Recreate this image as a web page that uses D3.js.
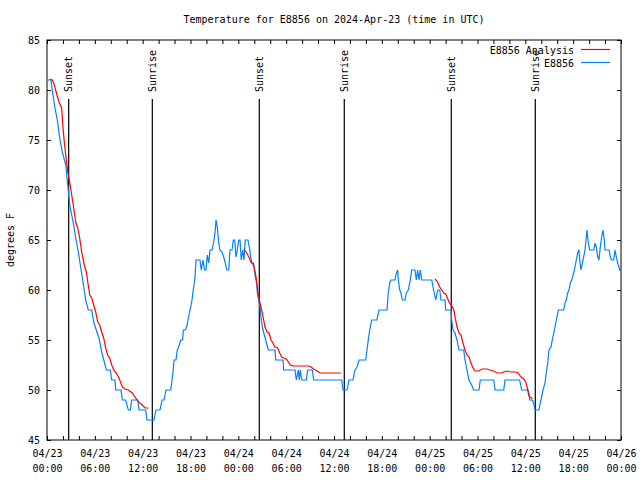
<!DOCTYPE html>
<html>
<head>
<meta charset="utf-8">
<script src="https://cdn.jsdelivr.net/npm/d3@7"></script>
<style>
  body { margin: 0; background: #fff; }
  svg { display: block; }
  text { font-family: "DejaVu Sans Mono", "Liberation Mono", monospace; font-size: 10px; fill: #000; }
</style>
</head>
<body>
<svg id="chart" width="640" height="480"></svg>
<script>
// ---------- data (hours since 2024-04-23 00:00 UTC) ----------
const titleText = "Temperature for E8856 on 2024-Apr-23 (time in UTC)";
const yLabel = "degrees F";
const seriesNames = ["E8856 Analysis", "E8856"];
const yTicks = [45, 50, 55, 60, 65, 70, 75, 80, 85];

const obsHours = [0.09,0.50,0.66,1.00,1.34,1.59,1.92,2.35,2.60,2.85,3.35,3.60,3.93,4.18,4.52,4.85,5.18,5.61,5.86,6.18,6.52,6.86,7.19,7.44,7.94,8.12,8.53,8.62,9.28,9.45,9.87,10.20,10.45,10.62,11.38,11.54,12.38,12.54,13.21,13.42,
13.67,14.17,14.43,14.68,14.93,15.52,15.68,15.84,15.93,16.18,16.34,16.52,16.77,17.02,17.10,17.35,17.52,17.69,17.85,18.03,18.19,18.35,18.53,18.60,18.69,19.19,19.35,19.57,19.76,19.94,20.11,20.28,20.45,20.70,20.95,21.11,21.20,21.36,21.54,21.70,21.95,22.20,22.37,22.54,22.79,22.95,23.21,23.37,23.54,23.71,23.87,24.05,24.21,24.37,24.55,24.71,24.87,25.21,25.38,25.55,25.71,25.97,26.13,26.30,26.38,26.55,26.72,26.88,27.09,27.43,27.76,28.60,28.69,29.60,29.69,31.11,31.27,31.52,31.65,31.77,31.95,32.53,32.70,33.28,33.45,36.97,37.13,37.63,37.88,38.38,38.63,38.89,39.14,39.98,40.14,40.30,40.48,40.73,41.39,41.64,42.65,42.81,42.99,43.15,43.65,43.82,43.99,44.07,44.24,44.40,44.57,44.91,45.07,45.32,45.57,45.75,46.16,46.32,46.50,46.66,46.83,47.00,48.26,48.42,48.58,48.76,49.01,49.26,49.42,49.92,50.01,50.68,50.76,50.93,51.18,51.43,51.68,52.27,52.43,52.68,52.93,53.27,53.52,54.19,54.35,56.03,56.20,57.29,57.45,59.29,59.54,60.37,60.55,60.87,61.05,61.21,61.71,61.88,62.05,62.22,62.47,62.63,62.81,62.97,63.22,63.38,63.56,63.72,63.89,64.14,64.81,64.98,65.14,65.31,65.48,65.64,65.82,66.07,66.23,66.39,66.57,66.73,66.82,66.98,67.15,67.32,67.48,67.57,67.74,67.90,68.08,68.58,68.74,68.90,69.08,69.24,69.40,69.58,69.74,69.91,69.99,70.50,70.66,70.83,71.08,71.25,71.41,71.59,71.84,72.00];
const obsTemps = [81,81,80,78.2,76.8,75.2,73.8,72.5,70.5,68.5,66.5,65.2,63.8,62.5,60.8,59,58,58,56.8,56,55.2,53.8,52.8,52,52,51,51,50,50,49,49,48,48,49,49,48,48,47,47,47,
48,48,49,49,50,50,51,52,53,53,54,54.3,55,55,56,56,56.3,57,57.7,58.3,59,60,61,61.7,63,63,62,63,62,62,63.5,62.7,64,64,65,66,67,66.3,64.7,64,63.8,63.2,62.7,62,62,64,64,65,65,63.3,64,65,65,63,64,63,65,65,64.3,63.3,62.7,62.3,61.3,60.7,59.7,59,58.3,57,56,55,54,54,53,53,52,52,51,52,51,52,51,51,52,52,51,51,50,50,51,51,52,52.3,53,53,54,55,56,57,57,58,58,59.7,60.7,61,61,61.7,62,61,60,59.7,59,59,59.7,60,61,62,62,61,62,61,62,61,61,60.3,59.7,59,60,60,59,59,58,58,57,56,55.7,55,54,54,53,52,51,50.5,50,50,51,51,50,50,51,51,50,50,49,49,48.7,48,48,48.7,49.3,50,50.7,51.7,52.7,54,54.3,55,55.7,56.3,57,58,58,58.7,59,59.7,60,60.7,61,61.7,62.3,63,63.7,64,63,62,62.7,63.3,64,64.7,66,64.7,64,64,64.7,64.3,63.3,63,64.3,65.3,66,65,64,64,63.3,63,63,64,63.3,62.7,62,62];

const anaHours1 = [0.34,0.66,0.92,1.25,1.51,1.84,2.01,2.17,2.35,2.60,2.85,3.10,3.35,3.60,3.85,4.10,4.35,4.68,4.93,5.11,5.36,5.61,5.86,6.11,6.36,6.61,6.86,7.11,7.36,7.61,7.86,8.12,8.37,8.69,9.03,9.45,9.78,10.20,10.70,11.04,11.29,11.63,11.95,12.29,12.73];
const anaTemps1 = [81.1,81,80.5,79.5,78.8,78.2,76.2,74.8,73.5,71.8,70.8,69.5,68.2,66.8,66.2,65.2,63.8,62.5,61.8,60.8,59.5,59.2,58.5,57.8,56.8,56.5,55.8,55.2,54.2,53.5,53.2,52.5,52,51.7,51.2,50.3,50.1,50,49.7,49.3,49,48.7,48.5,48.2,48.2];
const anaHours2 = [24.71,25.05,25.38,25.63,25.88,26.05,26.22,26.38,26.55,26.72,26.93,27.18,27.34,27.60,27.85,28.10,28.35,28.60,28.94,29.19,29.44,29.69,30.02,30.27,30.52,30.86,32.78,33.12,33.45,33.87,34.28,36.88];
const anaTemps2 = [64.1,63.7,63.2,62.7,62.7,62,61.3,60.3,59.3,58.7,58,57,56.3,55.8,55.7,55,54.7,54.3,54.2,53.7,53.3,53.2,53.1,52.8,52.5,52.4,52.4,52.3,52.1,51.9,51.7,51.7];
const anaHours3 = [48.67,49.01,49.26,49.51,49.76,50.01,50.17,50.43,50.68,50.93,51.09,51.18,51.43,51.68,51.93,52.18,52.43,52.68,52.93,53.18,53.44,53.69,54.10,54.60,55.19,55.53,56.03,56.45,56.95,57.29,57.70,58.20,58.70,59.12,59.46,59.80,60.05,60.21,60.37,60.55,60.80,60.87];
const anaTemps3 = [61.1,60.8,60.3,60,59.7,59.6,59.3,58.8,58.5,58.2,57.8,57.3,56.3,55.7,55.5,54.7,54,53.5,53.3,52.7,52.2,51.9,51.9,52.1,52.1,52,51.9,51.7,51.7,51.8,51.9,51.8,51.8,51.7,51.3,51.1,50.8,50.3,49.7,49.3,49.2,49.1];

const sunHours = [2.72, 13.21, 26.63, 37.29, 50.71, 61.25];
const sunLabels = ["Sunset", "Sunrise", "Sunset", "Sunrise", "Sunset", "Sunrise"];

// ---------- setup ----------
const colors = { analysis: "#ff0000", obs: "#0080ff" };
const t0 = Date.UTC(2024, 3, 23);
const toDate = h => new Date(t0 + h * 3600e3);
const start = new Date(t0), end = new Date(Date.UTC(2024, 3, 26));

const svg = d3.select("#chart");
const L = 47, R = 621, T = 40, B = 440;
const x = d3.scaleUtc().domain([start, end]).range([L, R]);
const y = d3.scaleLinear().domain([45, 85]).range([B, T]);

const fixFont = g => g.attr("font-family", null).attr("font-size", null);

// title and y label
svg.append("text").attr("x", (L + R) / 2).attr("y", 23).attr("text-anchor", "middle").text(titleText);
svg.append("text").attr("transform", "translate(14,240) rotate(-90)").attr("text-anchor", "middle").text(yLabel);

// axes
const ticks2h = d3.utcHour.every(2).range(start, new Date(+end + 1));
const ticks6h = d3.utcHour.every(6).range(start, new Date(+end + 1));
const fmtD = d3.utcFormat("%m/%d"), fmtT = d3.utcFormat("%H:%M");

svg.append("g").attr("transform", `translate(0,${B})`)
  .call(d3.axisBottom(x).tickValues(ticks2h).tickSize(-4).tickSizeOuter(0).tickFormat(""))
  .call(fixFont).call(g => g.select(".domain").remove());
svg.append("g").attr("transform", `translate(0,${T})`)
  .call(d3.axisTop(x).tickValues(ticks2h).tickSize(-4).tickSizeOuter(0).tickFormat(""))
  .call(fixFont).call(g => g.select(".domain").remove());
const xl = svg.append("g").attr("transform", `translate(0,${B})`)
  .call(d3.axisBottom(x).tickValues(ticks6h).tickSize(0).tickSizeOuter(0).tickFormat(""))
  .call(fixFont).call(g => g.select(".domain").remove());
xl.selectAll(".tick").each(function(d) {
  const t = d3.select(this).append("text").attr("text-anchor", "middle");
  t.append("tspan").attr("x", 0).attr("y", 16.5).text(fmtD(d));
  t.append("tspan").attr("x", 0).attr("y", 31.5).text(fmtT(d));
});

svg.append("g").attr("transform", `translate(${L},0)`)
  .call(d3.axisLeft(y).tickValues(yTicks).tickSize(-4).tickSizeOuter(0).tickPadding(7).tickFormat(d3.format("d")))
  .call(fixFont).call(g => g.select(".domain").remove())
  .call(g => g.selectAll("text").attr("dy", "0.35em"));
svg.append("g").attr("transform", `translate(${R},0)`)
  .call(d3.axisRight(y).tickValues(yTicks).tickSize(-4).tickSizeOuter(0).tickFormat(""))
  .call(fixFont).call(g => g.select(".domain").remove());

svg.selectAll(".tick line").attr("stroke", "#000");

// sunrise / sunset markers
const sun = svg.append("g");
sunHours.forEach((h, i) => {
  const sx = x(toDate(h));
  sun.append("line").attr("x1", sx).attr("x2", sx).attr("y1", 99).attr("y2", B)
    .attr("stroke", "#000").attr("stroke-width", 1.2);
  sun.append("text").attr("transform", `translate(${sx},92) rotate(-90)`)
    .attr("text-anchor", "start").attr("dominant-baseline", "central").text(sunLabels[i]);
});

// lines
const line = d3.line().x(d => x(toDate(d[0]))).y(d => y(d[1]));
const zipS = (a, b) => a.map((h, i) => [h, b[i]]);
svg.append("path").datum(zipS(obsHours, obsTemps)).attr("d", line)
  .attr("fill", "none").attr("stroke", colors.obs).attr("stroke-width", 1.2);
[[anaHours1, anaTemps1], [anaHours2, anaTemps2], [anaHours3, anaTemps3]].forEach(([h, t]) => {
  svg.append("path").datum(zipS(h, t)).attr("d", line)
    .attr("fill", "none").attr("stroke", colors.analysis).attr("stroke-width", 1.2);
});

// frame
svg.append("rect").attr("x", L).attr("y", T).attr("width", R - L).attr("height", B - T)
  .attr("fill", "none").attr("stroke", "#000").attr("stroke-width", 1);

// legend
const leg = svg.append("g");
[[seriesNames[0], colors.analysis, 50], [seriesNames[1], colors.obs, 63]].forEach(([name, c, ly]) => {
  leg.append("text").attr("x", 574).attr("y", ly).attr("dy", "0.35em").attr("text-anchor", "end").text(name);
  leg.append("line").attr("x1", 581).attr("x2", 610).attr("y1", ly - 0.5).attr("y2", ly - 0.5)
    .attr("stroke", c).attr("stroke-width", 1.2);
});
</script>
</body>
</html>
